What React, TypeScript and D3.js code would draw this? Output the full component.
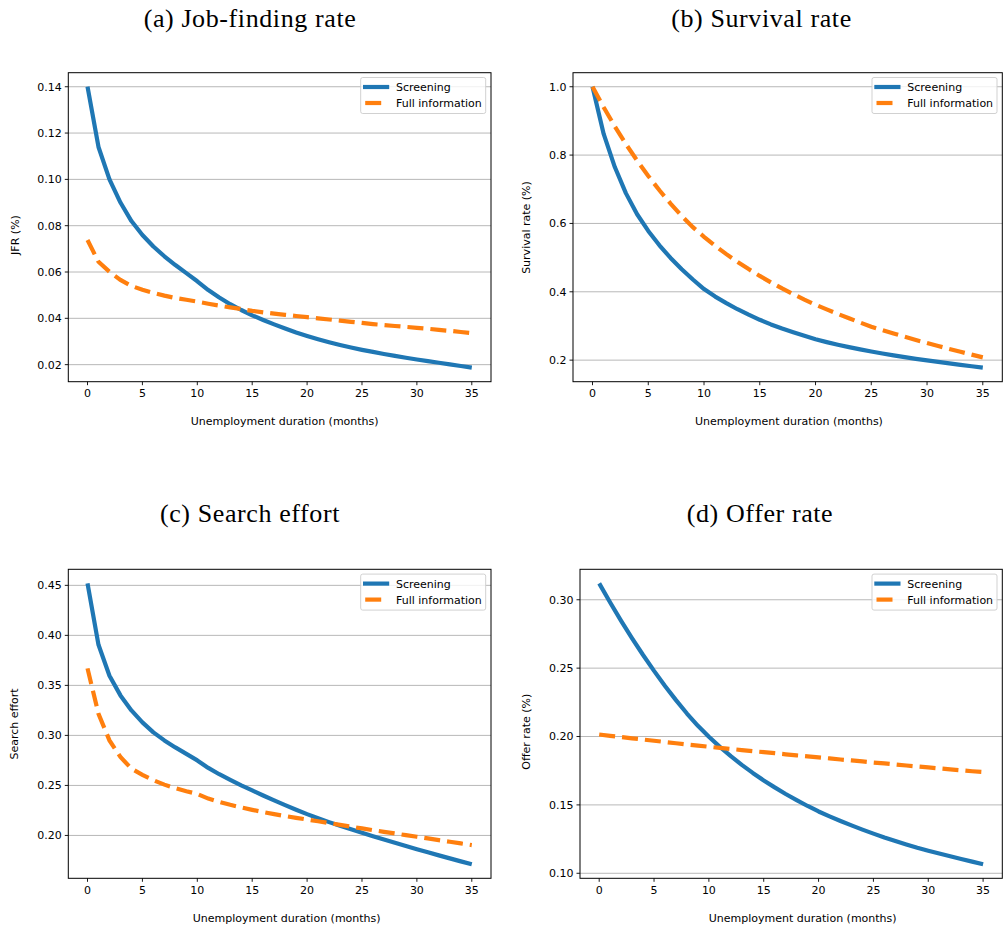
import React from "react";
import * as d3 from "d3";

const months = d3.range(0, 36);

const jfrScreening = [0.140, 0.114, 0.100, 0.090, 0.082, 0.076, 0.071, 0.0668, 0.0630, 0.0595, 0.0560, 0.0522, 0.0490, 0.0461, 0.0436, 0.0413, 0.0393, 0.0374, 0.0356, 0.0339, 0.0324, 0.0310, 0.0297, 0.0285, 0.0274, 0.0264, 0.0255, 0.0246, 0.0238, 0.0230, 0.0222, 0.0215, 0.0208, 0.0201, 0.0194, 0.0187];
const jfrFull = [0.0738, 0.0644, 0.0601, 0.0566, 0.054, 0.0523, 0.051, 0.0498, 0.0488, 0.048, 0.0472, 0.0463, 0.0455, 0.0447, 0.044, 0.0432, 0.0426, 0.042, 0.0415, 0.041, 0.0405, 0.04, 0.0395, 0.039, 0.0385, 0.038, 0.0375, 0.0371, 0.0367, 0.0363, 0.0359, 0.0355, 0.035, 0.0346, 0.0341, 0.0336];

const survScreening = [1.0, 0.862, 0.765, 0.688, 0.627, 0.578, 0.536, 0.499, 0.466, 0.436, 0.408, 0.386, 0.367, 0.349, 0.333, 0.318, 0.3045, 0.2925, 0.2815, 0.271, 0.261, 0.2528, 0.2451, 0.238, 0.2314, 0.2252, 0.2194, 0.2139, 0.2087, 0.2038, 0.1993, 0.1948, 0.1905, 0.1863, 0.1821, 0.178];
const survFull = [1.0, 0.94, 0.884, 0.832, 0.784, 0.739, 0.697, 0.658, 0.622, 0.589, 0.561, 0.5348, 0.5101, 0.4876, 0.4664, 0.4464, 0.4276, 0.4098, 0.393, 0.377, 0.362, 0.3484, 0.3352, 0.3224, 0.31, 0.298, 0.2878, 0.2779, 0.2683, 0.259, 0.25, 0.2413, 0.2328, 0.2244, 0.2161, 0.208];

const effortScreening = [0.452, 0.3906, 0.3597, 0.340, 0.325, 0.313, 0.303, 0.295, 0.288, 0.2815, 0.275, 0.2675, 0.2612, 0.2555, 0.2501, 0.245, 0.2399, 0.235, 0.2303, 0.2257, 0.2213, 0.2172, 0.2133, 0.2096, 0.2061, 0.2027, 0.1993, 0.196, 0.1927, 0.1894, 0.1862, 0.1831, 0.1801, 0.1771, 0.1741, 0.1712];
const effortFull = [0.367, 0.3215, 0.295, 0.2784, 0.2667, 0.2605, 0.2552, 0.2508, 0.2472, 0.2442, 0.2415, 0.2368, 0.2335, 0.2306, 0.228, 0.2256, 0.2234, 0.2213, 0.2194, 0.2176, 0.2159, 0.2142, 0.2124, 0.2106, 0.2088, 0.207, 0.2053, 0.2036, 0.202, 0.2003, 0.1987, 0.197, 0.1953, 0.1937, 0.192, 0.1904];

const offerScreening = [0.312, 0.298, 0.2846, 0.2718, 0.2596, 0.248, 0.237, 0.2266, 0.2168, 0.2078, 0.1998, 0.1924, 0.1856, 0.1793, 0.1734, 0.1679, 0.1628, 0.158, 0.1535, 0.1492, 0.1452, 0.1416, 0.1382, 0.135, 0.1319, 0.129, 0.1262, 0.1236, 0.1211, 0.1187, 0.1165, 0.1144, 0.1124, 0.1104, 0.1085, 0.1066];
const offerFull = [0.2015, 0.2005, 0.1996, 0.1987, 0.1978, 0.1969, 0.196, 0.1951, 0.1942, 0.1934, 0.1925, 0.1917, 0.1909, 0.1901, 0.1893, 0.1886, 0.1878, 0.187, 0.1862, 0.1855, 0.1847, 0.184, 0.1832, 0.1825, 0.1818, 0.181, 0.1803, 0.1796, 0.1788, 0.1781, 0.1774, 0.1767, 0.176, 0.1753, 0.1746, 0.174];

const xTicks = [0, 5, 10, 15, 20, 25, 30, 35];
const jfrTicks = [0.02, 0.04, 0.06, 0.08, 0.10, 0.12, 0.14];
const survTicks = [0.2, 0.4, 0.6, 0.8, 1.0];
const effortTicks = [0.20, 0.25, 0.30, 0.35, 0.40, 0.45];
const offerTicks = [0.10, 0.15, 0.20, 0.25, 0.30];

const seriesNames = ["Screening", "Full information"];
const titles = ["(a) Job-finding rate", "(b) Survival rate", "(c) Search effort", "(d) Offer rate"];
const yLabels = ["JFR (%)", "Survival rate (%)", "Search effort", "Offer rate (%)"];
const xLabel = "Unemployment duration (months)";

const BLUE = "#1f77b4";
const ORANGE = "#ff7f0e";
const SANS = "DejaVu Sans, sans-serif";

interface PanelCfg {
  title: string;
  titleX: number;
  titleY: number;
  left: number;
  right: number;
  top: number;
  bottom: number;
  yLabel: string;
  yLabelX: number;
  yLabelY: number;
  xLabelX: number;
  xLabelY: number;
  ticks: number[];
  fmt: string;
  a: number[];
  b: number[];
}

const panels: PanelCfg[] = [
  { title: titles[0], titleX: 250, titleY: 26.5, left: 68.3, right: 491, top: 72.7, bottom: 381.7, yLabel: yLabels[0], yLabelX: 15, yLabelY: 235, xLabelX: 284.7, xLabelY: 421, ticks: jfrTicks, fmt: ".2f", a: jfrScreening, b: jfrFull },
  { title: titles[1], titleX: 761.5, titleY: 26.5, left: 573, right: 1002.3, top: 72.7, bottom: 381.7, yLabel: yLabels[1], yLabelX: 525.7, yLabelY: 227.5, xLabelX: 789, xLabelY: 421, ticks: survTicks, fmt: ".1f", a: survScreening, b: survFull },
  { title: titles[2], titleX: 250, titleY: 521.7, left: 68.3, right: 491, top: 569.3, bottom: 878.3, yLabel: yLabels[2], yLabelX: 14.3, yLabelY: 724, xLabelX: 286.7, xLabelY: 917.7, ticks: effortTicks, fmt: ".2f", a: effortScreening, b: effortFull },
  { title: titles[3], titleX: 760, titleY: 521.7, left: 580, right: 1002.3, top: 569.3, bottom: 878.3, yLabel: yLabels[3], yLabelX: 525.7, yLabelY: 731.7, xLabelX: 802.7, xLabelY: 917.7, ticks: offerTicks, fmt: ".2f", a: offerScreening, b: offerFull },
];

function Panel({ p }: { p: PanelCfg }) {
  const x = d3.scaleLinear().domain([-1.75, 36.75]).range([p.left, p.right]);
  const all = p.a.concat(p.b);
  const lo = d3.min(all) as number;
  const hi = d3.max(all) as number;
  const pad = (hi - lo) * 0.05;
  const y = d3.scaleLinear().domain([lo - pad, hi + pad]).range([p.bottom, p.top]);
  const line = d3
    .line<number>()
    .x((_, i) => x(months[i]))
    .y((d) => y(d));
  const fmt = d3.format(p.fmt);
  const lx = p.right - 130.3;
  const ly = p.top + 4.8;
  return (
    <g>
      <text x={p.titleX} y={p.titleY} textAnchor="middle" fontFamily="Liberation Serif, serif" fontSize={26} letterSpacing={0.6} fill="#000">
        {p.title}
      </text>
      {p.ticks.map((t) => (
        <line key={"g" + t} x1={p.left} x2={p.right} y1={y(t)} y2={y(t)} stroke="#b0b0b0" strokeWidth={0.9} />
      ))}
      <path d={line(p.a) || ""} fill="none" stroke={BLUE} strokeWidth={4.2} strokeLinejoin="round" />
      <path d={line(p.b) || ""} fill="none" stroke={ORANGE} strokeWidth={4.2} strokeDasharray="16,7" />
      <rect x={p.left} y={p.top} width={p.right - p.left} height={p.bottom - p.top} fill="none" stroke="#000" strokeWidth={1} />
      {p.ticks.map((t) => (
        <g key={"y" + t}>
          <line x1={p.left - 3.5} x2={p.left} y1={y(t)} y2={y(t)} stroke="#000" strokeWidth={0.9} />
          <text x={p.left - 6.5} y={y(t)} dy="0.36em" textAnchor="end" fontFamily={SANS} fontSize={11} fill="#000">
            {fmt(t)}
          </text>
        </g>
      ))}
      {xTicks.map((t) => (
        <g key={"x" + t}>
          <line x1={x(t)} x2={x(t)} y1={p.bottom} y2={p.bottom + 3.5} stroke="#000" strokeWidth={0.9} />
          <text x={x(t)} y={p.bottom + 11.5} dy="0.36em" textAnchor="middle" fontFamily={SANS} fontSize={11} fill="#000">
            {t}
          </text>
        </g>
      ))}
      <text x={p.xLabelX} y={p.xLabelY} dy="0.36em" textAnchor="middle" fontFamily={SANS} fontSize={11} fill="#000">
        {xLabel}
      </text>
      <text transform={`translate(${p.yLabelX},${p.yLabelY}) rotate(-90)`} dy="0.36em" textAnchor="middle" fontFamily={SANS} fontSize={11} fill="#000">
        {p.yLabel}
      </text>
      <g>
        <rect x={lx} y={ly} width={125} height={36} rx={2} fill="#fff" fillOpacity={0.8} stroke="#cccccc" strokeWidth={0.9} />
        <line x1={lx + 2.3} x2={lx + 28.5} y1={ly + 9.5} y2={ly + 9.5} stroke={BLUE} strokeWidth={4.2} />
        <line x1={lx + 4.5} x2={lx + 20.5} y1={ly + 25.5} y2={ly + 25.5} stroke={ORANGE} strokeWidth={4.2} />
        <text x={lx + 35.3} y={ly + 9.5} dy="0.36em" fontFamily={SANS} fontSize={11} fill="#000">
          {seriesNames[0]}
        </text>
        <text x={lx + 35.3} y={ly + 25.5} dy="0.36em" fontFamily={SANS} fontSize={11} fill="#000">
          {seriesNames[1]}
        </text>
      </g>
    </g>
  );
}

export default function App() {
  return (
    <svg width={1006} height={929} style={{ position: "absolute", left: 0, top: 0, background: "#fff" }}>
      <rect x={0} y={0} width={1006} height={929} fill="#fff" />
      {panels.map((p, i) => (
        <Panel key={i} p={p} />
      ))}
    </svg>
  );
}
